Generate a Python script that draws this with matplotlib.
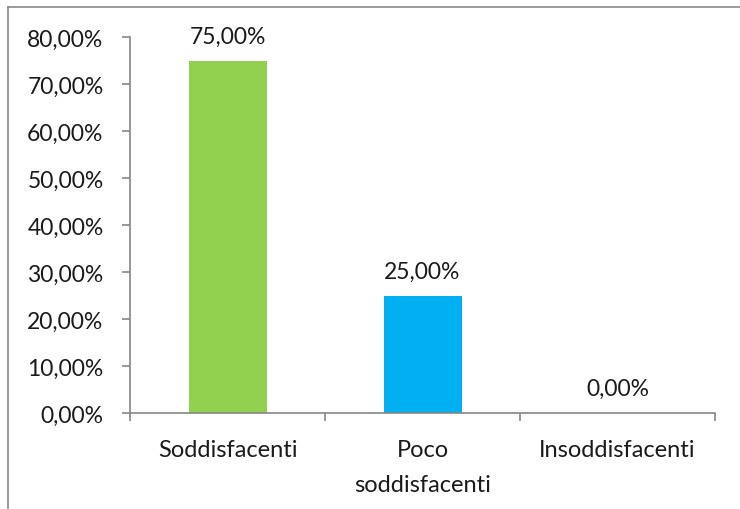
import matplotlib.pyplot as plt
from matplotlib.lines import Line2D
from matplotlib.ticker import FuncFormatter

categories = ['Soddisfacenti', 'Poco\nsoddisfacenti', 'Insoddisfacenti']
values = [75.0, 25.0, 0.0]
colors = ['#92D050', '#00B0F0', '#FFC000']

plt.rcParams['font.family'] = ['Lato', 'DejaVu Sans']

fig = plt.figure(figsize=(7.4, 5.1), dpi=100, facecolor='white')
ax = fig.add_axes([130 / 740, 1 - 414 / 510, 585 / 740, 376 / 510])

x = range(len(categories))
bars = ax.bar(x, values, width=0.4, color=colors, zorder=2)

for xi, v in zip(x, values):
    ax.annotate(f"{v:.2f}%".replace('.', ','), xy=(xi, v), xytext=(0, 14),
                textcoords='offset pixels', ha='center', va='bottom',
                fontsize=16.5, color='#1a1a1a')

ax.set_xlim(-0.5, 2.5)
ax.set_ylim(0, 80)
ax.set_yticks(range(0, 81, 10))
ax.yaxis.set_major_formatter(FuncFormatter(lambda v, p: f"{v:.2f}%".replace('.', ',')))

ax.set_xticks([-0.5, 0.5, 1.5, 2.5])
ax.set_xticklabels([])
ax.set_xticks(list(x), minor=True)
ax.set_xticklabels(categories, minor=True, fontsize=17, color='#1a1a1a',
                   linespacing=1.8)
ax.tick_params(axis='x', which='minor', length=0, pad=19)
ax.tick_params(axis='x', which='major', length=6, color='#868686', width=1.2)
ax.tick_params(axis='y', length=6, color='#868686', width=1.2, pad=13,
               labelsize=16.5, labelcolor='#1a1a1a')

for s in ['top', 'right']:
    ax.spines[s].set_visible(False)
for s in ['left', 'bottom']:
    ax.spines[s].set_color('#868686')
    ax.spines[s].set_linewidth(1.2)

# chart area border (only top and left visible in crop)
fig.add_artist(Line2D([8 / 740, 1], [1 - 8 / 510] * 2, transform=fig.transFigure,
                      color='#8a8a8a', lw=1.2))
fig.add_artist(Line2D([8 / 740] * 2, [0, 1 - 8 / 510], transform=fig.transFigure,
                      color='#8a8a8a', lw=1.2))

fig.savefig('out.png', dpi=100, facecolor='white')
